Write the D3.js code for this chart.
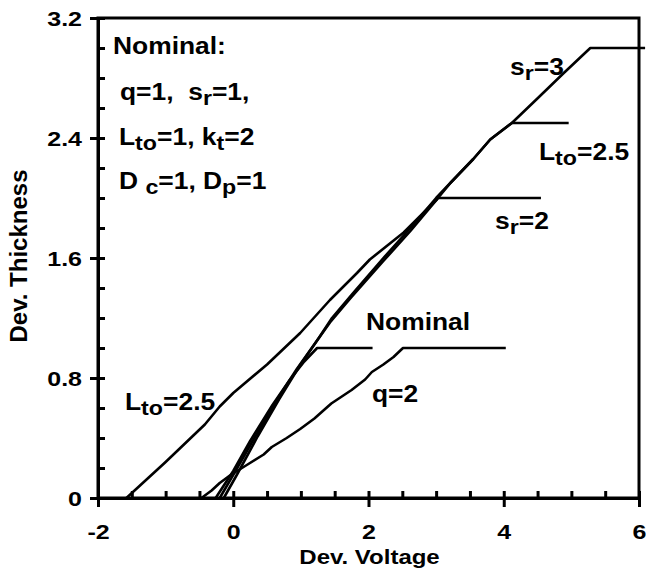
<!DOCTYPE html>
<html>
<head>
<meta charset="utf-8">
<script src="https://cdn.jsdelivr.net/npm/d3@7"></script>
<style>
  html, body { margin: 0; padding: 0; background: #fff; }
  svg { display: block; }
  text { font-family: "Liberation Sans", Arial, sans-serif; font-weight: bold; fill: #000; }
</style>
</head>
<body>
<svg id="chart" width="646" height="572"></svg>
<script>
// Device thickness vs. device voltage, one curve per parameter variant
const xTicks = [-2, 0, 2, 4, 6];
const xMinor = [-1.5, -1, -0.5, 0.5, 1, 1.5, 2.5, 3, 3.5, 4.5, 5, 5.5];
const yTicks = [0, 0.8, 1.6, 2.4, 3.2];
const yMinor = [0.2, 0.4, 0.6, 1.0, 1.2, 1.4, 1.8, 2.0, 2.2, 2.6, 2.8, 3.0];

const nominal = [[-0.26,0],[0,0.18],[0.25,0.38],[0.58,0.62],[0.84,0.79],[1.05,0.91],[1.24,1.0],[2.06,1.0]];
const sr2 = [[-0.2,0],[0.02,0.17],[0.3,0.39],[0.64,0.65],[0.94,0.86],[1.24,1.05],[1.43,1.17],[1.73,1.33],[2.22,1.58],[2.62,1.78],[3.03,2.0],[4.55,2.0]];
const sr3 = [[-0.14,0],[0.06,0.16],[0.36,0.41],[0.68,0.66],[0.98,0.88],[1.27,1.07],[1.46,1.2],[1.76,1.36],[2.24,1.61],[2.64,1.81],[3.0,2.0],[3.21,2.1],[3.55,2.26],[3.8,2.39],[4.12,2.5],[4.49,2.66],[4.88,2.83],[5.28,3.0],[6.09,3.0]];
const lto25 = [[-1.58,0],[-1.0,0.24],[-0.42,0.49],[-0.2,0.61],[0,0.7],[0.5,0.89],[0.99,1.1],[1.43,1.32],[1.83,1.5],[2.02,1.59],[2.52,1.77],[3.01,1.99],[3.21,2.1],[3.55,2.26],[3.8,2.39],[4.12,2.5],[4.96,2.5]];
const q2 = [[-0.47,0],[-0.32,0.05],[-0.2,0.1],[-0.05,0.15],[0.2,0.22],[0.45,0.29],[0.57,0.34],[0.79,0.4],[0.99,0.46],[1.2,0.53],[1.45,0.63],[1.75,0.72],[1.95,0.79],[2.05,0.84],[2.22,0.89],[2.37,0.94],[2.51,1.0],[4.03,1.0]];

const series = [nominal, sr2, sr3, lto25, q2];

const svg = d3.select("#chart");
const plotL = 98, plotR = 639, plotT = 18, plotB = 498;
const x = d3.scaleLinear().domain([-2, 6]).range([plotL, plotR]);
const y = d3.scaleLinear().domain([0, 3.2]).range([plotB, plotT]);

const tickFont = 20, tickSx = 1.25;

// frame
svg.append("rect")
  .attr("x", plotL).attr("y", plotT)
  .attr("width", plotR - plotL).attr("height", plotB - plotT)
  .attr("fill", "none").attr("stroke", "#000").attr("stroke-width", 3);

// bottom axis: outward major ticks with labels
const gx = svg.append("g").attr("transform", `translate(0,${plotB})`)
  .call(d3.axisBottom(x).tickValues(xTicks).tickSize(9).tickPadding(0).tickFormat(d => String(d)));
// inward ticks, major and minor
const gxi = svg.append("g").attr("transform", `translate(0,${plotB})`)
  .call(d3.axisBottom(x).tickValues(xTicks.concat(xMinor)).tickSize(-7).tickFormat(""));

// left axis
const gy = svg.append("g").attr("transform", `translate(${plotL},0)`)
  .call(d3.axisLeft(y).tickValues(yTicks).tickSize(8).tickPadding(0)
    .tickFormat(d => d === 0 ? "0" : d.toFixed(1)));
const gyi = svg.append("g").attr("transform", `translate(${plotL},0)`)
  .call(d3.axisLeft(y).tickValues(yTicks.concat(yMinor)).tickSize(-7).tickFormat(""));

[gx, gxi, gy, gyi].forEach(g => {
  g.select(".domain").attr("stroke-width", 3);
  g.selectAll(".tick line").attr("stroke-width", 3);
});

gx.selectAll(".tick text")
  .attr("font-size", tickFont).attr("dy", null).attr("y", 0)
  .attr("transform", `translate(0,41) scale(${tickSx},1)`)
  .attr("font-family", "Liberation Sans, Arial, sans-serif").attr("font-weight", "bold");
gy.selectAll(".tick text")
  .attr("font-size", tickFont).attr("x", 0).attr("dy", "0.35em")
  .attr("transform", `translate(-16,0) scale(${tickSx},1)`)
  .attr("font-family", "Liberation Sans, Arial, sans-serif").attr("font-weight", "bold");

// axis titles
svg.append("text").attr("font-size", 20).attr("text-anchor", "middle")
  .attr("transform", `translate(${(x(-2) + x(6)) / 2 + 1},564) scale(1.2,1)`)
  .text("Dev. Voltage");
svg.append("text").attr("font-size", 24).attr("text-anchor", "middle")
  .attr("transform", `translate(27,256) rotate(-90)`)
  .text("Dev. Thickness");

// curves
const line = d3.line().x(d => x(d[0])).y(d => y(d[1]));
svg.append("g").selectAll("path").data(series).join("path")
  .attr("d", line)
  .attr("fill", "none").attr("stroke", "#000").attr("stroke-width", 2.6)
  .attr("stroke-linejoin", "round");

// labels: parts are [text, isSubscript]
function label(px, py, parts, size, sx) {
  const t = svg.append("text").attr("font-size", size)
    .attr("transform", `translate(${px},${py}) scale(${sx},1)`);
  let shifted = false;
  parts.forEach(([s, sub]) => {
    const ts = t.append("tspan").text(s);
    if (sub && !shifted) { ts.attr("font-size", size * 0.88).attr("dy", size * 0.2); shifted = true; }
    else if (!sub && shifted) { ts.attr("dy", -size * 0.2); shifted = false; }
  });
}

const annSize = 24, annSx = 1.1;
label(113, 54, [["Nominal:"]], annSize, annSx);
label(120, 100, [["q=1,\u00a0\u00a0s"], ["r", 1], ["=1,"]], annSize, annSx);
label(119, 145, [["L"], ["to", 1], ["=1, k"], ["t", 1], ["=2"]], annSize, annSx);
label(119, 189, [["D\u00a0"], ["c", 1], ["=1, D"], ["p", 1], ["=1"]], annSize, annSx);
label(510, 75, [["s"], ["r", 1], ["=3"]], annSize, annSx);
label(539, 160, [["L"], ["to", 1], ["=2.5"]], annSize, annSx);
label(495, 229, [["s"], ["r", 1], ["=2"]], annSize, annSx);
label(366, 330, [["Nominal"]], annSize, annSx);
label(372, 402, [["q=2"]], annSize, annSx);
label(125, 410, [["L"], ["to", 1], ["=2.5"]], annSize, annSx);
</script>
</body>
</html>
